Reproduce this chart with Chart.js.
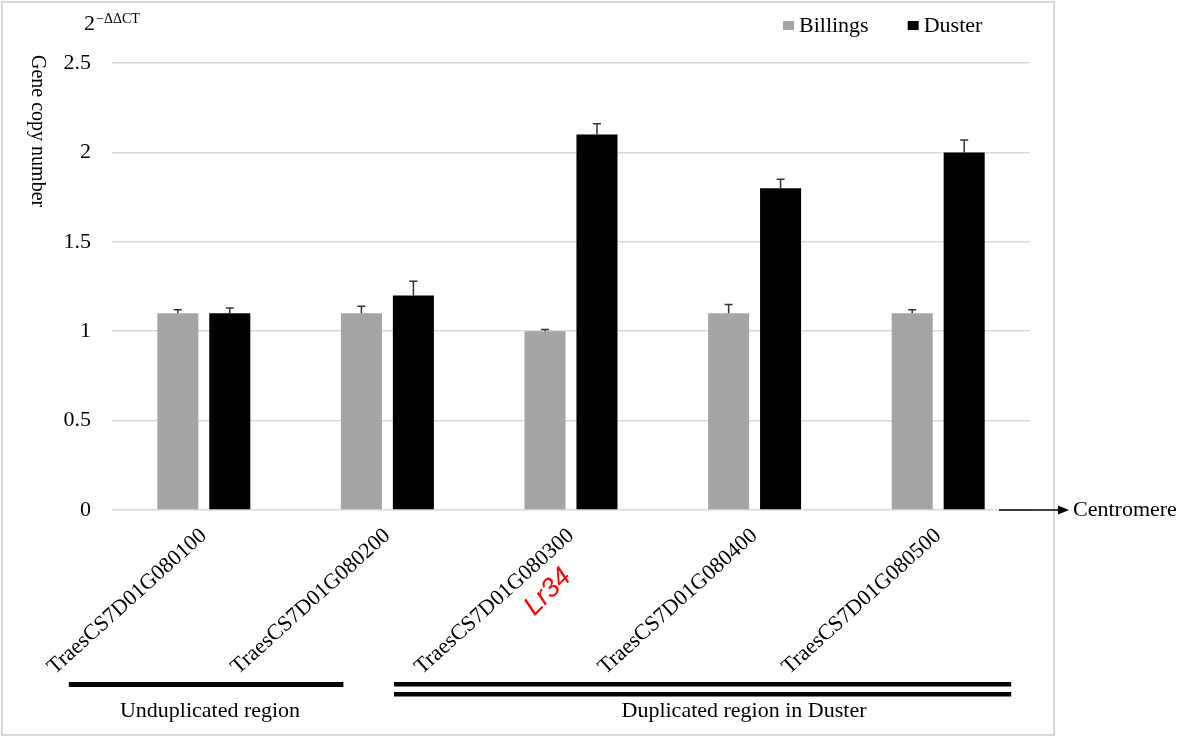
<!DOCTYPE html>
<html lang="en">
<head>
  <meta charset="UTF-8" />
  <title>Gene copy number</title>
  <style>
    body { margin: 0; background: #fff; }
    #wrap { position: relative; width: 1200px; height: 738px; }
    #frame {
      position: absolute; left: 1px; top: 1px; width: 1050px; height: 731px;
      border: 2px solid #d9d9d9;
    }
    #chartBox { position: absolute; left: 0; top: 0; width: 1200px; height: 738px; }
  </style>
</head>
<body>
  <div id="wrap">
    <div id="frame"></div>
    <div id="chartBox"><canvas id="myChart"></canvas></div>
  </div>

  <script src="https://cdn.jsdelivr.net/npm/chart.js"></script>
  <script>
    const genes = ['TraesCS7D01G080100', 'TraesCS7D01G080200', 'TraesCS7D01G080300', 'TraesCS7D01G080400', 'TraesCS7D01G080500'];
    const billings = [1.1, 1.1, 1.0, 1.1, 1.1];
    const billingsErr = [0.02, 0.04, 0.01, 0.05, 0.02];
    const duster = [1.1, 1.2, 2.1, 1.8, 2.0];
    const dusterErr = [0.03, 0.08, 0.06, 0.05, 0.07];
    const yTickValues = [0, 0.5, 1, 1.5, 2, 2.5];
    const regionNames = ['Unduplicated region', 'Duplicated region in Duster'];

    const serif = '"Liberation Serif", "Times New Roman", serif';
    Chart.defaults.font.family = serif;
    Chart.defaults.color = '#000';

    // error bars go up only, with a small cap
    const errorBars = {
      id: 'errorBars',
      afterDatasetsDraw(chart) {
        const ctx = chart.ctx;
        const y = chart.scales.y;
        chart.data.datasets.forEach((ds, i) => {
          chart.getDatasetMeta(i).data.forEach((bar, j) => {
            const top = y.getPixelForValue(ds.data[j] + ds.errors[j]);
            ctx.save();
            ctx.strokeStyle = '#333';
            ctx.lineWidth = 1.5;
            ctx.beginPath();
            ctx.moveTo(bar.x, bar.y);
            ctx.lineTo(bar.x, top);
            ctx.moveTo(bar.x - 4, top);
            ctx.lineTo(bar.x + 4, top);
            ctx.stroke();
            ctx.restore();
          });
        });
      }
    };

    // legend, axis unit, gene tag, centromere arrow and region bars
    const extras = {
      id: 'extras',
      afterDraw(chart) {
        const ctx = chart.ctx;
        const x = chart.scales.x;
        const area = chart.chartArea;
        ctx.save();

        // legend
        ctx.font = '22px ' + serif;
        ctx.textBaseline = 'alphabetic';
        ctx.textAlign = 'left';
        let lx = 783;
        chart.data.datasets.forEach(ds => {
          ctx.fillStyle = ds.backgroundColor;
          ctx.fillRect(lx, 21, 11, 9);
          ctx.fillStyle = '#000';
          ctx.fillText(ds.label, lx + 16, 32);
          lx += 16 + ctx.measureText(ds.label).width + 39;
        });

        // 2^-ΔΔCT
        ctx.font = '22px ' + serif;
        ctx.fillText('2', 84, 30);
        ctx.font = '14px ' + serif;
        ctx.fillText('\u2212\u0394\u0394CT', 96, 23);

        // y axis title, reads top to bottom
        ctx.save();
        ctx.translate(32, 55);
        ctx.rotate(Math.PI / 2);
        ctx.font = '20px ' + serif;
        ctx.textAlign = 'left';
        ctx.fillText('Gene copy number', 0, 0);
        ctx.restore();

        // Lr34 under the third gene
        ctx.save();
        ctx.translate(x.getPixelForValue(2) - 23, area.bottom + 82);
        ctx.rotate(-Math.PI / 4);
        ctx.font = 'italic 27px "Liberation Sans", Arial, sans-serif';
        ctx.fillStyle = '#ff0000';
        ctx.textAlign = 'center';
        ctx.textBaseline = 'middle';
        ctx.fillText('Lr34', 0, 0);
        ctx.restore();

        // centromere arrow
        const ay = area.bottom;
        ctx.strokeStyle = '#000';
        ctx.lineWidth = 1.5;
        ctx.beginPath();
        ctx.moveTo(999, ay);
        ctx.lineTo(1060, ay);
        ctx.stroke();
        ctx.beginPath();
        ctx.moveTo(1058, ay - 4.5);
        ctx.lineTo(1069, ay);
        ctx.lineTo(1058, ay + 4.5);
        ctx.closePath();
        ctx.fill();
        ctx.font = '22px ' + serif;
        ctx.textAlign = 'left';
        ctx.fillText('Centromere', 1073, ay + 6);

        // region bars
        ctx.fillStyle = '#000';
        const x0 = x.getPixelForValue(0), x1 = x.getPixelForValue(1);
        const x2 = x.getPixelForValue(2), x4 = x.getPixelForValue(4);
        ctx.fillRect(x0 - 135, 682, (x1 - 44) - (x0 - 135), 5);
        ctx.fillRect(x2 - 177, 682, (x4 + 73) - (x2 - 177), 4.5);
        ctx.fillRect(x2 - 177, 692, (x4 + 73) - (x2 - 177), 4.5);
        ctx.font = '22px ' + serif;
        ctx.textAlign = 'center';
        ctx.fillText(regionNames[0], 210, 717);
        ctx.fillText(regionNames[1], 744, 717);

        ctx.restore();
      }
    };

    new Chart(document.getElementById('myChart'), {
      type: 'bar',
      data: {
        labels: genes,
        datasets: [
          { label: 'Billings', data: billings, errors: billingsErr, backgroundColor: '#a5a5a5' },
          { label: 'Duster', data: duster, errors: dusterErr, backgroundColor: '#000000' }
        ]
      },
      options: {
        responsive: true,
        maintainAspectRatio: false,
        animation: false,
        categoryPercentage: 0.566,
        barPercentage: 0.79,
        layout: { padding: { left: 0, top: 63, right: 170, bottom: 0 } },
        plugins: {
          legend: { display: false },
          tooltip: { enabled: false }
        },
        scales: {
          x: {
            grid: { display: false },
            border: { display: false },
            ticks: {
              autoSkip: false,
              minRotation: 42,
              maxRotation: 42,
              padding: 5,
              font: { size: 22 },
              color: '#000'
            },
            afterFit(scale) { scale.height = 228; }
          },
          y: {
            min: 0,
            max: 2.5,
            grid: { color: '#d9d9d9', lineWidth: 1.5, drawTicks: false },
            border: { display: false },
            afterBuildTicks(scale) { scale.ticks = yTickValues.map(v => ({ value: v })); },
            ticks: {
              padding: 21,
              font: { size: 22 },
              color: '#000',
              callback: v => String(v)
            },
            afterFit(scale) { scale.width = 112; }
          }
        }
      },
      plugins: [errorBars, extras]
    });
  </script>
</body>
</html>
